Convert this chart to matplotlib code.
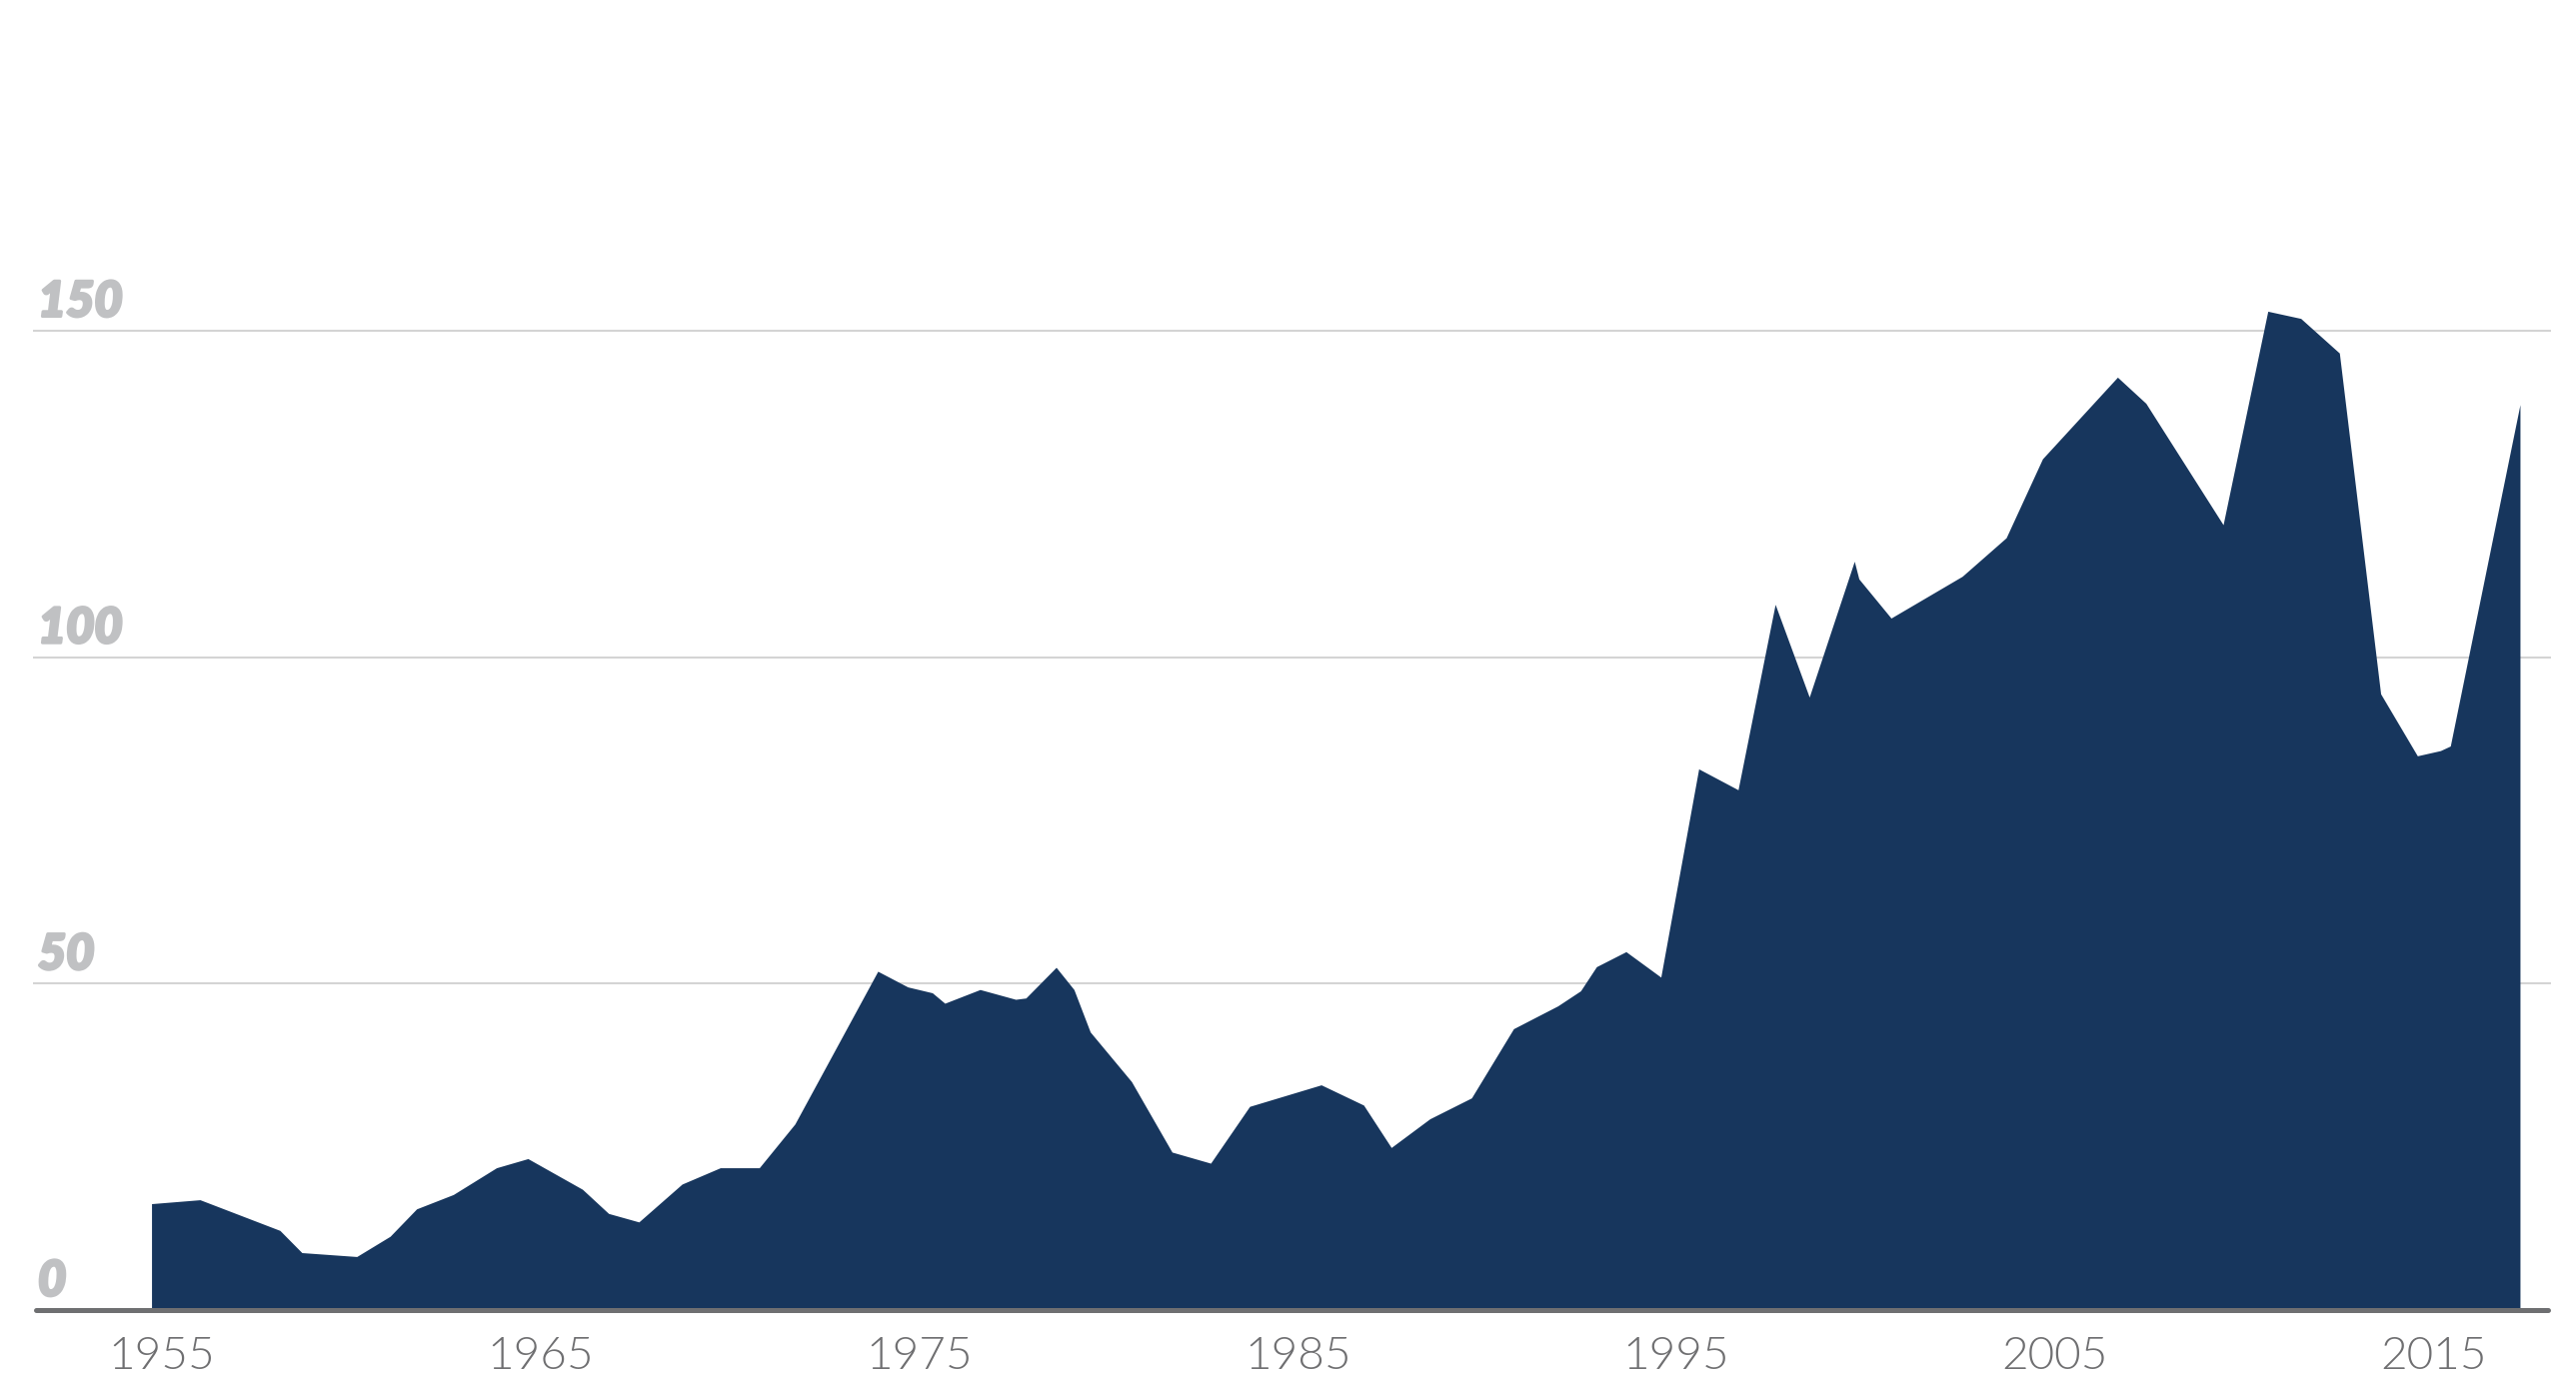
"""
plot.py - area chart, navy fill, 1955-2017
"""
import matplotlib
matplotlib.use('Agg')
import matplotlib.pyplot as plt
import matplotlib.patheffects as pe
from matplotlib.transforms import offset_copy, blended_transform_factory

NAVY      = '#17365d'
GRID      = '#d4d4d4'
AXIS_GRAY = '#6e6f71'
YLAB_GRAY = '#c0c1c3'
XLAB_GRAY = '#6f6f71'

# decimal dates of the vertices and their values
years = [1954.73, 1956.01, 1958.12, 1958.70, 1960.15, 1961.03, 1961.73, 1962.70,
         1963.84, 1964.67, 1966.11, 1966.80, 1967.60, 1968.74, 1969.75, 1970.78,
         1971.72, 1973.91, 1974.70, 1975.35, 1975.68, 1976.61, 1977.55, 1977.82,
         1978.62, 1979.09, 1979.52, 1980.61, 1981.68, 1982.70, 1983.73, 1985.62,
         1986.74, 1987.47, 1988.49, 1989.59, 1990.70, 1991.87, 1992.47, 1992.89,
         1993.67, 1994.59, 1995.59, 1996.63, 1997.61, 1998.51, 1999.70, 1999.82,
         2000.67, 2002.55, 2003.71, 2004.67, 2006.65, 2007.40, 2009.44, 2010.62,
         2011.49, 2012.51, 2013.60, 2014.57, 2015.18, 2015.44, 2017.28]
values = [16.3, 16.9, 12.2, 8.8, 8.2, 11.3, 15.5, 17.7,
          21.8, 23.2, 18.5, 14.8, 13.5, 19.3, 21.8, 21.8,
          28.5, 51.9, 49.5, 48.6, 47.0, 49.1, 47.6, 47.8,
          52.5, 49.1, 42.6, 35.0, 24.2, 22.5, 31.2, 34.5,
          31.4, 24.9, 29.3, 32.5, 43.1, 46.6, 48.9, 52.6,
          54.9, 51.0, 82.9, 79.7, 108.1, 93.9, 114.7, 112.0,
          106.0, 112.4, 118.3, 130.4, 142.9, 138.9, 120.3, 153.0,
          151.9, 146.6, 94.4, 84.9, 85.7, 86.4, 138.7]

y_ticks = [0, 50, 100, 150]
x_ticks = [1955, 1965, 1975, 1985, 1995, 2005, 2015]

W, H, DPI = 2577, 1375, 100
fig = plt.figure(figsize=(W / DPI, H / DPI), dpi=DPI)
ax = fig.add_axes([33 / W, 64 / H, (2552 - 33) / W, 1311 / H])
ax.set_xlim(1951.60, 2018.10)
ax.set_ylim(0, 200.67)
ax.axis('off')

# gridlines sit behind the area
for v in y_ticks[1:]:
    ax.axhline(v, color=GRID, lw=1.5, zorder=1)

ax.fill_between(years, values, 0, color=NAVY, lw=0, zorder=2)

# baseline
ax.axhline(0, xmin=0.001, xmax=0.999, color=AXIS_GRAY, lw=3.6,
           solid_capstyle='round', zorder=3, clip_on=False)

# y labels, left, above each line (stroke makes them extra heavy)
ylab_tr = offset_copy(blended_transform_factory(ax.transAxes, ax.transData),
                      fig=fig, x=0, y=14.5, units='dots')
heavy = [pe.withStroke(linewidth=2.2, foreground=YLAB_GRAY)]
for v in y_ticks:
    ax.text(0.002, v, str(v), transform=ylab_tr, ha='left', va='baseline',
            fontsize=35, family='Lato', weight=900, style='italic',
            color=YLAB_GRAY, path_effects=heavy)

# x labels under the baseline
xlab_tr = offset_copy(ax.transData, fig=fig, x=0, y=-59, units='dots')
for yr in x_ticks:
    ax.text(yr, 0, str(yr), transform=xlab_tr, ha='center', va='baseline',
            fontsize=33, family='Lato', weight=300, color=XLAB_GRAY,
            clip_on=False)

fig.savefig('out.png', dpi=DPI)
